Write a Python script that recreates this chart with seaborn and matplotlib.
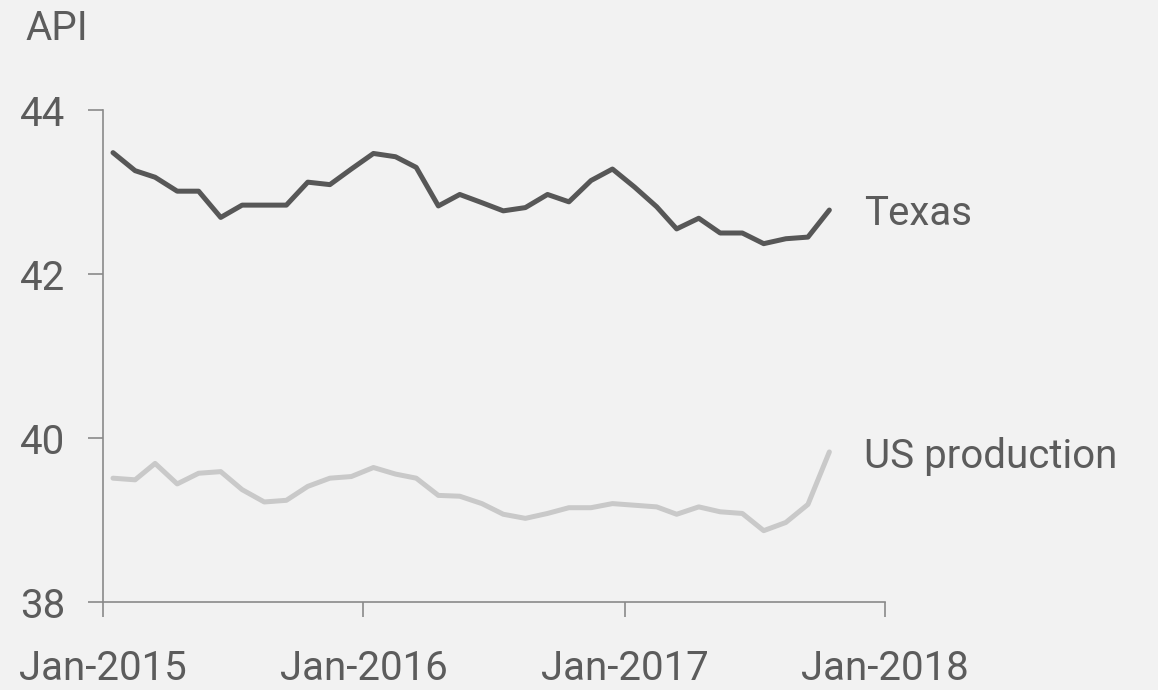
import pandas as pd
import numpy as np
import matplotlib.pyplot as plt
import matplotlib.dates as mdates
import seaborn as sns

# monthly API gravity, Jan-2015 .. Oct-2017 (mid-month readings)
months = pd.date_range('2015-01-01', '2017-10-01', freq='MS') + pd.Timedelta(days=14)
texas = [43.48, 43.26, 43.18, 43.01, 43.01, 42.69, 42.84, 42.84, 42.84, 43.12,
         43.09, 43.28, 43.47, 43.43, 43.30, 42.83, 42.97, 42.87, 42.77, 42.81,
         42.97, 42.88, 43.14, 43.28, 43.06, 42.82, 42.55, 42.68, 42.50, 42.50,
         42.37, 42.43, 42.45, 42.78]
us_prod = [39.51, 39.49, 39.69, 39.44, 39.57, 39.59, 39.37, 39.22, 39.24, 39.41,
           39.51, 39.53, 39.64, 39.56, 39.51, 39.30, 39.29, 39.20, 39.07, 39.02,
           39.08, 39.15, 39.15, 39.20, 39.18, 39.16, 39.07, 39.16, 39.10, 39.08,
           38.87, 38.97, 39.19, 39.83]
series_names = ['Texas', 'US production']
series_colors = ['#575757', '#c9c9c9']
label_y = [42.74, 39.77]
yticks = [38, 40, 42, 44]
xticks = pd.to_datetime(['2015-01-01', '2016-01-01', '2017-01-01', '2018-01-01'])

df = pd.DataFrame({'date': np.tile(months, 2),
                   'api': texas + us_prod,
                   'series': np.repeat(series_names, len(months))})

bg = '#f2f2f2'
txt = '#5c5c5c'
sns.set_theme(style='white', rc={'figure.facecolor': bg, 'axes.facecolor': bg})
plt.rcParams['font.family'] = ['Roboto', 'DejaVu Sans']

fig = plt.figure(figsize=(11.58, 6.9), dpi=100)
ax = fig.add_axes([103 / 1158, 1 - 602 / 690, (885 - 103) / 1158, (602 - 110) / 690])

sns.lineplot(data=df, x='date', y='api', hue='series', palette=series_colors,
             linewidth=3.6, legend=False, ax=ax)

ax.set_xlim(xticks[0], xticks[-1])
ax.set_ylim(38, 44)
ax.set_yticks(yticks)
ax.set_xticks(xticks)
ax.xaxis.set_major_formatter(mdates.DateFormatter('%b-%Y'))
ax.set_xlabel('')
ax.set_ylabel('')

for s in ['top', 'right']:
    ax.spines[s].set_visible(False)
for s in ['left', 'bottom']:
    ax.spines[s].set_color('#8a8a8a')
    ax.spines[s].set_linewidth(1.2)

ax.tick_params(axis='both', direction='out', length=11, width=1.2, color='#8a8a8a',
               labelsize=29, labelcolor=txt)
ax.tick_params(axis='y', pad=16, left=True)
ax.tick_params(axis='x', pad=22.5, bottom=True)

for name, yy in zip(series_names, label_y):
    ax.text(0.973, yy, name, transform=ax.get_yaxis_transform(), fontsize=29,
            color=txt, va='center', ha='left', clip_on=False)

fig.text(25 / 1158, 1 - 40 / 690, 'API', fontsize=29, color=txt, ha='left', va='baseline')

fig.savefig('out.png', dpi=100, facecolor=bg)
